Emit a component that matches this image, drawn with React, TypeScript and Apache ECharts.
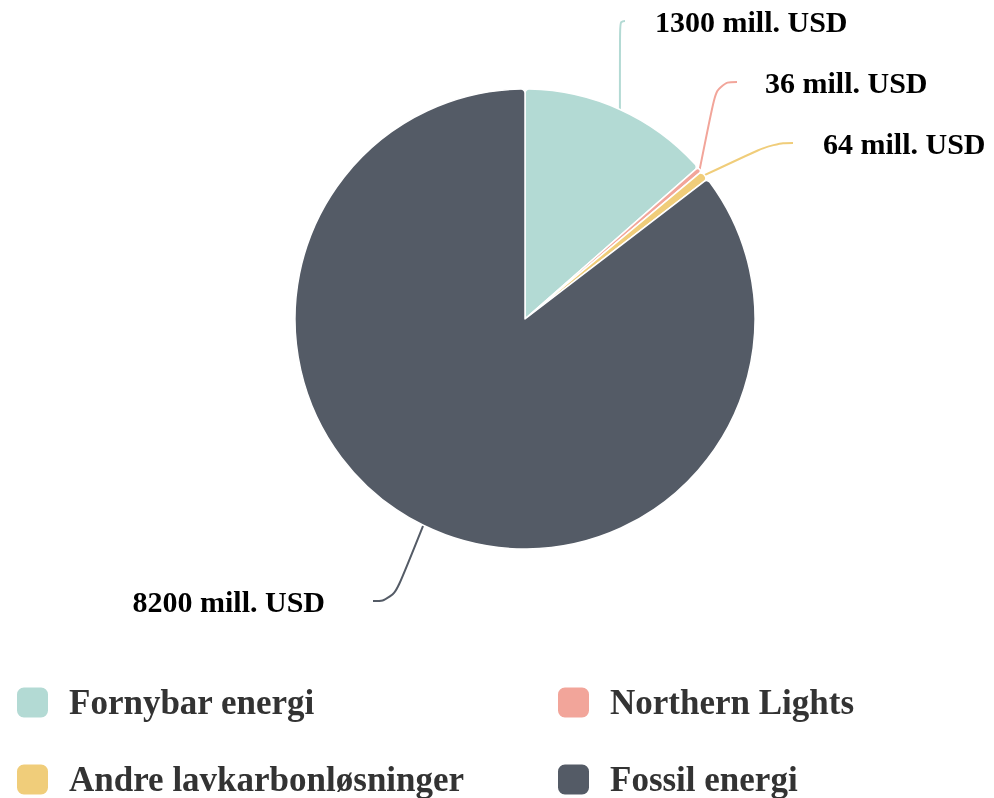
import React, { useEffect, useRef } from "react";
import * as echarts from "echarts";

const categories = ["Fornybar energi", "Northern Lights", "Andre lavkarbonløsninger", "Fossil energi"];
const values = [1300, 36, 64, 8200];
const colors = ["#b3dad4", "#f2a59a", "#f0cd7a", "#545b66"];
const unit = "mill. USD";

// label placement (layout only): [x, y, align, gap between line end and text]
const labelPlacement: [number, number, string, number][] = [
  [625, 21, "left", 30],
  [737, 82, "left", 28],
  [793, 143, "left", 30],
  [373, 601, "right", 48],
];

export default function App() {
  const ref = useRef<HTMLDivElement>(null);
  useEffect(() => {
    document.body.style.margin = "0";
    const chart = echarts.init(ref.current!, null, { renderer: "svg" });
    const serif = "'Liberation Serif', 'Times New Roman', serif";
    const legendBase = {
      orient: "vertical",
      top: 685,
      padding: 0,
      itemWidth: 33,
      itemHeight: 32,
      itemGap: 42,
      icon: "roundRect",
      textStyle: { fontFamily: serif, fontWeight: "bold", fontSize: 35, color: "#333", padding: [3, 0, 0, 15], lineHeight: 32 },
    };
    chart.setOption({
      animation: false,
      color: colors,
      legend: [
        { ...legendBase, left: 15, data: [categories[0], categories[2]] },
        { ...legendBase, left: 556, data: [categories[1], categories[3]] },
      ],
      series: [
        {
          type: "pie",
          center: [525, 319],
          radius: 230,
          startAngle: 90,
          clockwise: true,
          avoidLabelOverlap: false,
          itemStyle: { borderRadius: 4, borderColor: "#fff", borderWidth: 1.5 },
          label: {
            formatter: (p: any) => `${p.value} ${unit}`,
            fontFamily: serif,
            fontWeight: "bold",
            fontSize: 30,
            color: "#000",
            backgroundColor: "rgba(255,255,255,0)",
          },
          labelLine: { show: true, length: 30, length2: 20, smooth: 0.5, lineStyle: { width: 2 } },
          data: categories.map((c, i) => {
            const [, , align, gap] = labelPlacement[i];
            return {
              name: c,
              value: values[i],
              label: { padding: align === "left" ? [0, 0, 0, gap] : [0, gap, 0, 0] },
            };
          }),
          labelLayout: (p: any) => {
            const [x, y, align] = labelPlacement[p.dataIndex];
            return { x, y, align, verticalAlign: "middle" };
          },
          emphasis: { disabled: true },
        },
      ],
    });
    return () => chart.dispose();
  }, []);
  return <div ref={ref} style={{ position: "fixed", left: 0, top: 0, width: 994, height: 798 }} />;
}
